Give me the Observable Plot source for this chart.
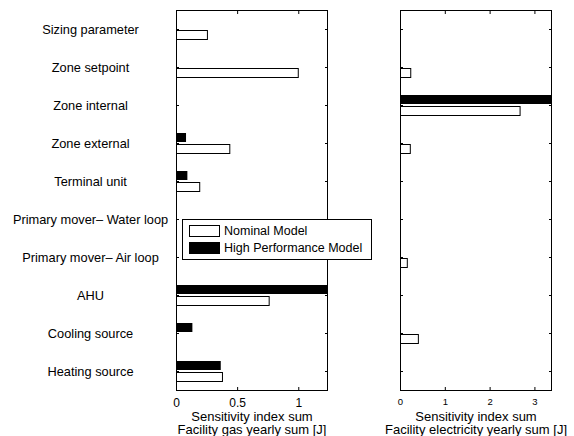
<!DOCTYPE html>
<html>
<head>
<meta charset="utf-8">
<script src="https://cdn.jsdelivr.net/npm/d3@7"></script>
<script src="https://cdn.jsdelivr.net/npm/@observablehq/plot@0.6"></script>
<style>
  html, body { margin: 0; padding: 0; background: #fff; }
  body { width: 574px; height: 436px; position: relative; overflow: hidden;
         font-family: "Liberation Sans", Arial, Helvetica, sans-serif; }
  #left, #right { position: absolute; top: 0; }
  #left { left: 0; }
  #right { left: 340px; }
  #legend { position: absolute; left: 182px; top: 219px; width: 188px; height: 39px;
            border: 1px solid #000; background: #fff; z-index: 10; font-size: 12.5px; color: #000; }
  .item { position: absolute; left: 6px; height: 13px; display: flex; align-items: center; }
  .sw { width: 31px; height: 12px; border: 1px solid #000; box-sizing: border-box; margin-right: 4px; }
</style>
</head>
<body>
<div id="left"></div>
<div id="right"></div>
<div id="legend"></div>
<script>
const categories = [
  "Sizing parameter",
  "Zone setpoint",
  "Zone internal",
  "Zone external",
  "Terminal unit",
  "Primary mover\u2013 Water loop",
  "Primary mover\u2013 Air loop",
  "AHU",
  "Cooling source",
  "Heating source"
];
const seriesNames = ["Nominal Model", "High Performance Model"];
const gasNominal  = [0.257, 1.00, 0, 0.44, 0.194, 0, 0, 0.762, 0, 0.38];
const gasHigh     = [0, 0, 0, 0.082, 0.093, 0, 0, 1.30, 0.134, 0.366];
const elecNominal = [0, 0.24, 2.68, 0.23, 0, 0, 0.163, 0, 0.41, 0];
const elecHigh    = [0, 0, 3.50, 0, 0, 0, 0, 0, 0, 0];
const gasTicks = [0, 0.5, 1];
const elecTicks = [0, 1, 2, 3];
const gasTitle = ["Sensitivity index sum\nFacility gas yearly sum [J]"];
const elecTitle = ["Sensitivity index sum\nFacility electricity yearly sum [J]"];

const font = '"Liberation Sans", Arial, Helvetica, sans-serif';

function rows(nominal, high) {
  return categories.map((c, i) => ({cat: c, nominal: nominal[i], high: high[i]}));
}

function panel({data, xmax, ticks, tickFont, title, width, marginLeft, marginRight, labels}) {
  const blank = () => "";
  return Plot.plot({
    width, height: 436,
    marginTop: 10, marginBottom: 46, marginLeft, marginRight,
    style: {fontFamily: font, color: "#000", background: "transparent", overflow: "visible"},
    x: {domain: [0, xmax]},
    y: {domain: categories, padding: 0},
    marks: [
      Plot.barX(data.filter(d => d.high > 0), {x: "high", y: "cat", fill: "#000", insetTop: 9, insetBottom: 20, clip: true}),
      Plot.barX(data.filter(d => d.nominal > 0), {x: "nominal", y: "cat", fill: "#fff", stroke: "#000", strokeWidth: 1, insetTop: 20.5, insetBottom: 8.5, clip: true}),
      Plot.frame({stroke: "#000", strokeWidth: 1}),
      // inward ticks
      Plot.axisX({anchor: "bottom", ticks, tickSize: 3, dy: -3, tickFormat: blank, label: null, stroke: "#000"}),
      Plot.axisX({anchor: "top", ticks, tickSize: 3, dy: 3, tickFormat: blank, label: null, stroke: "#000"}),
      Plot.axisY({anchor: "left", tickSize: 3, dx: 3, tickFormat: blank, label: null, stroke: "#000"}),
      Plot.axisY({anchor: "right", tickSize: 3, dx: -3, tickFormat: blank, label: null, stroke: "#000"}),
      // tick labels
      Plot.axisX({anchor: "bottom", ticks, tickSize: 0, tickPadding: 7.5, label: null, fontSize: tickFont, fill: "#000", tickFormat: d => String(d)}),
      labels ? Plot.axisY({anchor: "left", tickSize: 0, tickPadding: 86, textAnchor: "middle", fontSize: 12.8, label: null, fill: "#000"}) : null,
      Plot.text(title, {frameAnchor: "bottom", lineAnchor: "top", dy: 20.5, fontSize: 13, lineHeight: 1.04, fill: "#000"})
    ]
  });
}

document.getElementById("left").append(panel({
  data: rows(gasNominal, gasHigh), xmax: 1.235, ticks: gasTicks, tickFont: 12,
  title: gasTitle, width: 340, marginLeft: 176, marginRight: 13, labels: true
}));
document.getElementById("right").append(panel({
  data: rows(elecNominal, elecHigh), xmax: 3.37, ticks: elecTicks, tickFont: 9.5,
  title: elecTitle, width: 234, marginLeft: 60, marginRight: 23, labels: false
}));

// legend
const legend = document.getElementById("legend");
const swFill = ["#fff", "#000"];
seriesNames.forEach((name, i) => {
  const item = document.createElement("div");
  item.className = "item";
  item.style.top = (i === 0 ? 4 : 21) + "px";
  const sw = document.createElement("div");
  sw.className = "sw";
  sw.style.background = swFill[i];
  const t = document.createElement("span");
  t.textContent = name;
  item.append(sw, t);
  legend.append(item);
});
</script>
</body>
</html>
